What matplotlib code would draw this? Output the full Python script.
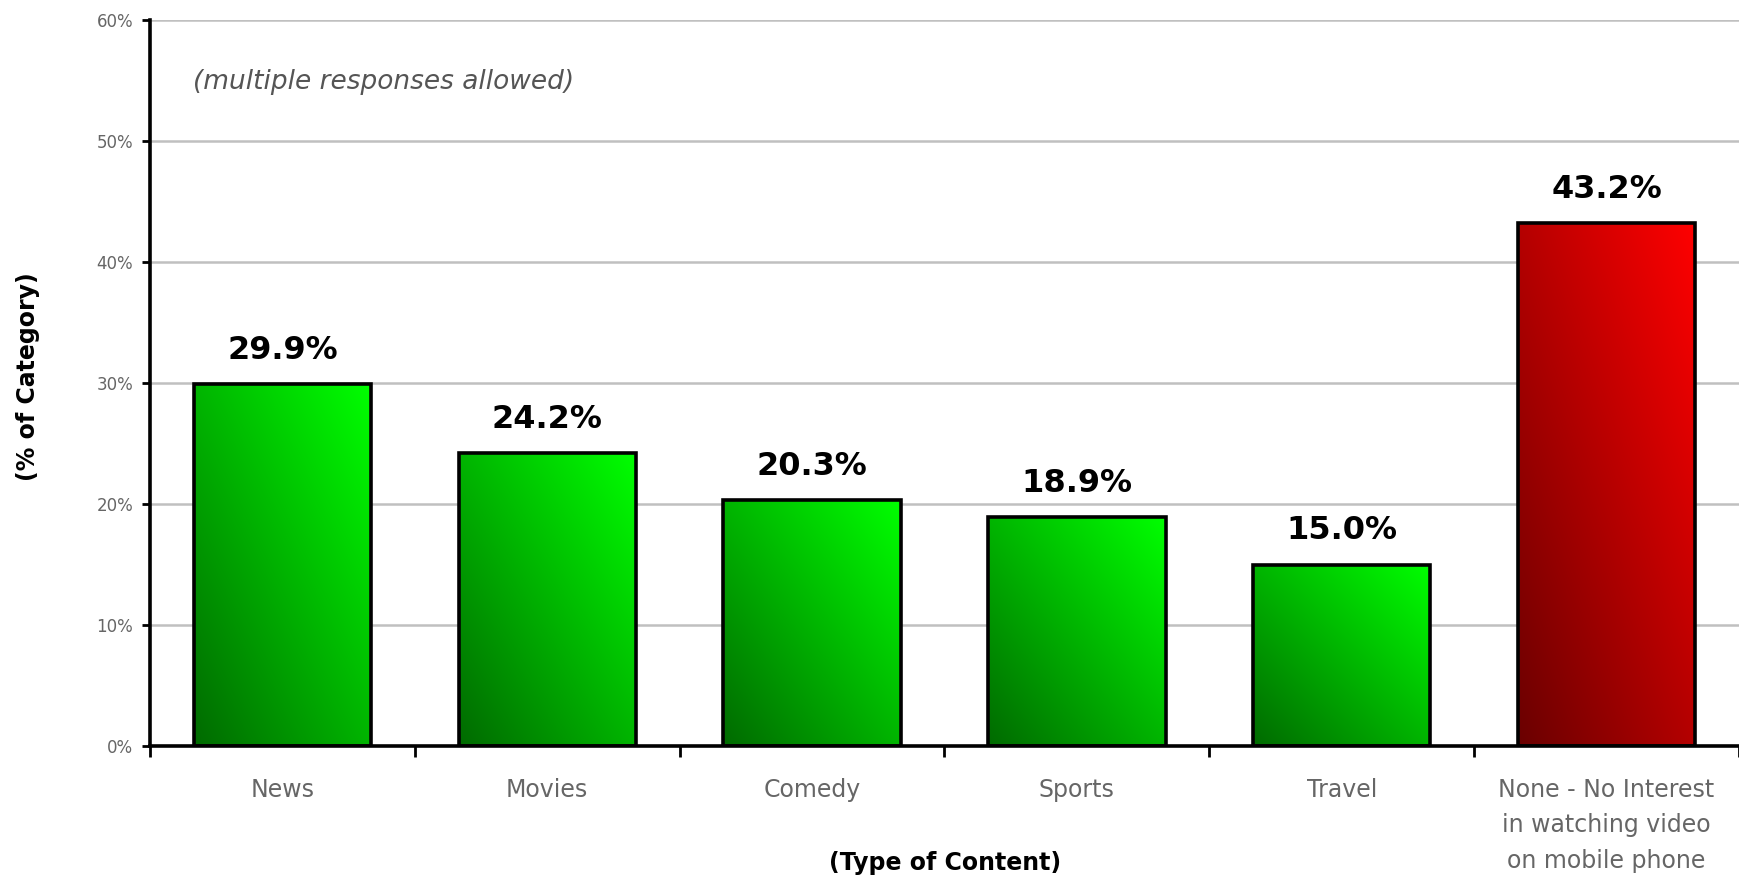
import numpy as np
import matplotlib
matplotlib.use("Agg")
import matplotlib.pyplot as plt
from matplotlib.colors import LinearSegmentedColormap

# data
categories = ["News", "Movies", "Comedy", "Sports", "Travel",
              "None - No Interest\nin watching video\non mobile phone"]
values = [29.9, 24.2, 20.3, 18.9, 15.0, 43.2]
bar_kind = ["green", "green", "green", "green", "green", "red"]

yticks = [0, 10, 20, 30, 40, 50, 60]

cmaps = {
    "green": LinearSegmentedColormap.from_list("g", ["#006a00", "#00ff00"]),
    "red": LinearSegmentedColormap.from_list("r", ["#6a0000", "#ff0000"]),
}

fig = plt.figure(figsize=(17.39, 8.76), dpi=100)
ax = fig.add_axes([150 / 1739, 1 - 746 / 876, 1 - 150 / 1739, (746 - 20) / 876])

x = np.arange(len(categories))
width = 0.67
bars = ax.bar(x, values, width=width, facecolor="none", edgecolor="black",
              linewidth=2.6, zorder=3)

# diagonal gradient fill: dark bottom-left -> bright top-right
u = np.linspace(0, 1, 200)
v = np.linspace(0, 1, 200)
U, V = np.meshgrid(u, v)
grad = (U + V) / 2
for b, kind in zip(bars, bar_kind):
    x0, w, h = b.get_x(), b.get_width(), b.get_height()
    im = ax.imshow(grad, cmap=cmaps[kind], origin="lower", aspect="auto",
                   extent=[x0, x0 + w, 0, h], zorder=2, interpolation="bilinear")
    im.set_clip_path(b)

for xi, val in zip(x, values):
    ax.annotate(f"{val:.1f}%", (xi, val), xytext=(0, 13), textcoords="offset points",
                ha="center", va="bottom", fontsize=23, fontweight="bold", color="black")

ax.set_xlim(-0.5, len(categories) - 0.5)
ax.set_ylim(0, 60)
ax.set_yticks(yticks)
ax.set_yticklabels([f"{t}%" for t in yticks], fontsize=12, color="#666666")
ax.yaxis.grid(True, color="#c0c0c0", linewidth=1.8, zorder=0)
ax.set_axisbelow(True)

ax.set_xticks(np.arange(-0.5, len(categories) + 0.5, 1))
ax.set_xticklabels([])
ax.set_xticks(x, minor=True)
ax.set_xticklabels(categories, minor=True, fontsize=17, color="#666666", linespacing=1.6)
ax.tick_params(axis="x", which="minor", length=0, pad=23)
ax.tick_params(axis="x", which="major", length=8, width=2, direction="out", color="black")
ax.tick_params(axis="y", length=6, width=2, direction="out", color="black", pad=6)

for s in ["top", "right"]:
    ax.spines[s].set_visible(False)
for s in ["left", "bottom"]:
    ax.spines[s].set_linewidth(2.6)

ax.text(0.027, 0.905, "(multiple responses allowed)", transform=ax.transAxes,
        fontsize=19, fontstyle="italic", color="#555555")

fig.text(28 / 1739, 1 - 377 / 876, "(% of Category)", rotation=90, fontsize=17,
         fontweight="bold", ha="center", va="center")
fig.text(945 / 1739, 1 - 863 / 876, "(Type of Content)", fontsize=17,
         fontweight="bold", ha="center", va="center")

fig.savefig("out.png", dpi=100)
